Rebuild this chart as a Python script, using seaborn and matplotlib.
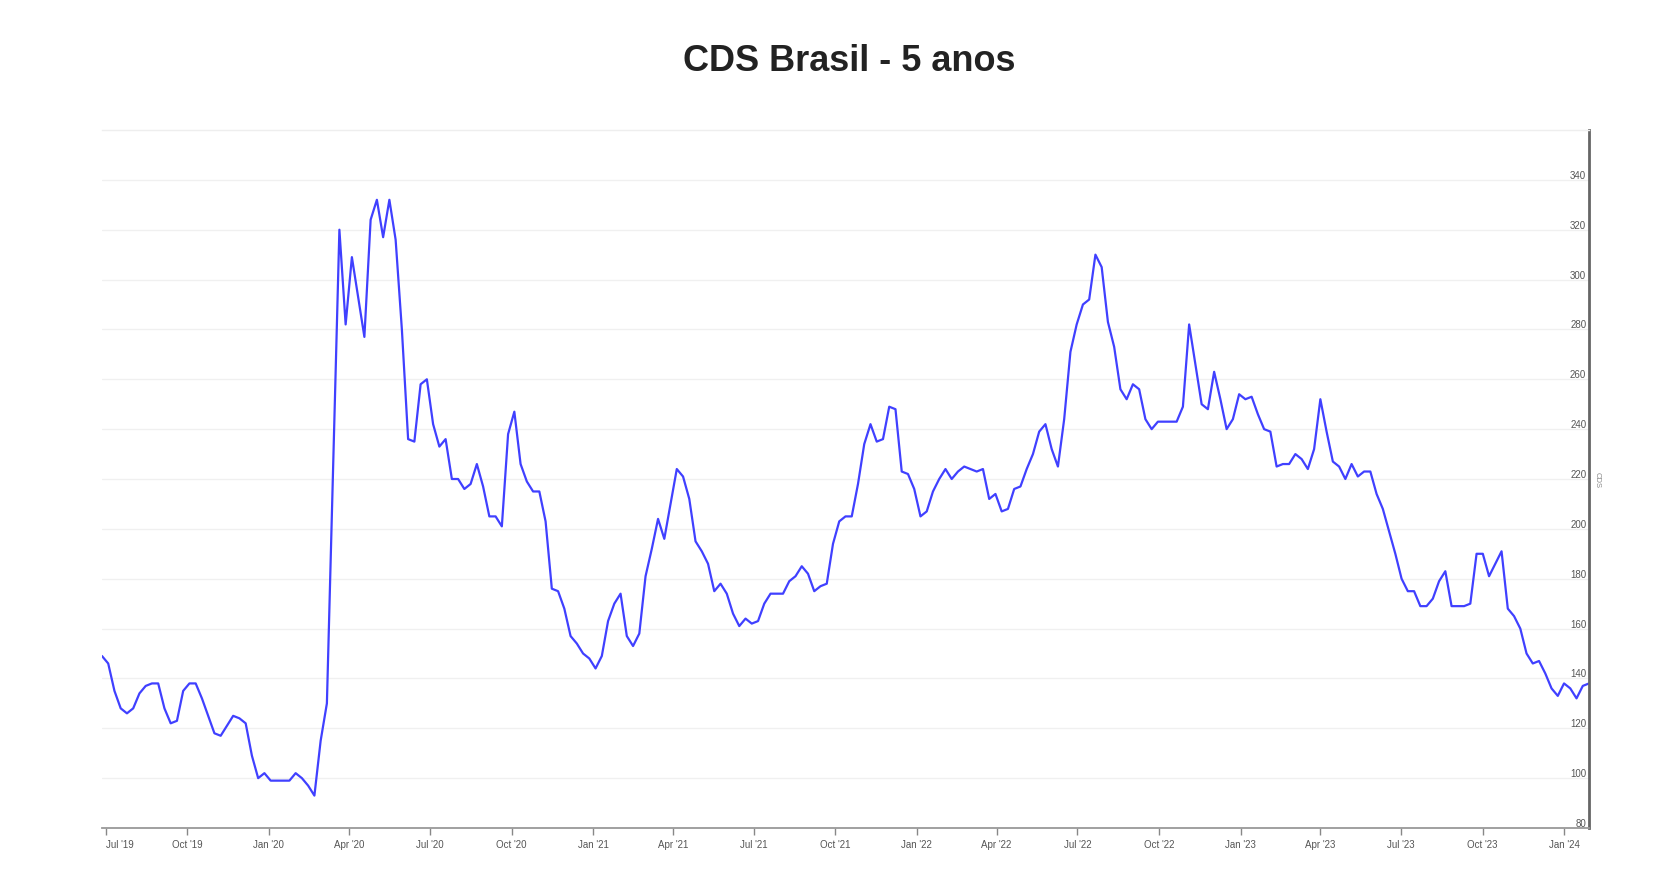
import pandas as pd
import matplotlib
matplotlib.use("Agg")
import matplotlib.pyplot as plt
import matplotlib.dates as mdates
import seaborn as sns

# weekly CDS 5y Brazil readings (bps), late Jun 2019 -> late Jan 2024
first_date = "2019-06-27"
last_date = "2024-01-29"
cds = [
    149, 146, 135, 128, 126, 128, 134, 137, 138, 138,
    128, 122, 123, 135, 138, 138, 132, 125, 118, 117,
    121, 125, 124, 122, 109, 100, 102, 99, 99, 99,
    99, 102, 100, 97, 93, 115, 130, 225, 320, 282,
    309, 293, 277, 324, 332, 317, 332, 316, 280, 236,
    235, 258, 260, 242, 233, 236, 220, 220, 216, 218,
    226, 217, 205, 205, 201, 238, 247, 226, 219, 215,
    215, 203, 176, 175, 168, 157, 154, 150, 148, 144,
    149, 163, 170, 174, 157, 153, 158, 181, 192, 204,
    196, 210, 224, 221, 212, 195, 191, 186, 175, 178,
    174, 166, 161, 164, 162, 163, 170, 174, 174, 174,
    179, 181, 185, 182, 175, 177, 178, 194, 203, 205,
    205, 218, 234, 242, 235, 236, 249, 248, 223, 222,
    216, 205, 207, 215, 220, 224, 220, 223, 225, 224,
    223, 224, 212, 214, 207, 208, 216, 217, 224, 230,
    239, 242, 232, 225, 244, 271, 282, 290, 292, 310,
    305, 283, 273, 256, 252, 258, 256, 244, 240, 243,
    243, 243, 243, 249, 282, 266, 250, 248, 263, 252,
    240, 244, 254, 252, 253, 246, 240, 239, 225, 226,
    226, 230, 228, 224, 232, 252, 239, 227, 225, 220,
    226, 221, 223, 223, 214, 208, 199, 190, 180, 175,
    175, 169, 169, 172, 179, 183, 169, 169, 169, 170,
    190, 190, 181, 186, 191, 168, 165, 160, 150, 146,
    147, 142, 136, 133, 138, 136, 132, 137, 138,
]
y_ticks = list(range(80, 360, 20))
title = "CDS Brasil - 5 anos"
y_label = "CDS"

df = pd.DataFrame({
    "date": pd.date_range(first_date, last_date, periods=len(cds)),
    "cds": cds,
})

sns.set_theme(style="white")
plt.rcParams["font.family"] = ["Liberation Sans", "DejaVu Sans"]

fig = plt.figure(figsize=(16.66, 8.78), dpi=100)
ax = fig.add_axes([0.0612, 0.0558, 0.8926, 0.795])

sns.lineplot(data=df, x="date", y="cds", color="#4040ff", linewidth=1.6, ax=ax)

ax.set_ylim(80, 360)
ax.set_xlim(df["date"].iloc[0], df["date"].iloc[-1])
ax.set_yticks(y_ticks)
ax.grid(axis="y", color="#f0f0f0", linewidth=1)
ax.grid(axis="x", visible=False)

ax.xaxis.set_major_locator(mdates.MonthLocator(bymonth=[1, 4, 7, 10]))
ax.xaxis.set_major_formatter(mdates.DateFormatter("%b '%y"))
ax.tick_params(axis="x", length=5, width=1, color="#888888", labelsize=7,
               labelcolor="#555555", pad=3, bottom=True)

ax.yaxis.tick_right()
ax.yaxis.set_label_position("right")
ax.tick_params(axis="y", length=0, pad=-2, labelsize=7, labelcolor="#555555")
plt.setp(ax.get_yticklabels(), ha="right", va="bottom")
ax.set_ylabel(y_label, rotation=270, fontsize=5.5, color="#888888", labelpad=8)
ax.set_xlabel("")

# first date label sits flush with the left edge, like the original
fig.canvas.draw()
xlabels = ax.get_xticklabels()
if xlabels:
    xlabels[0].set_horizontalalignment("left")

ax.spines["left"].set_visible(False)
ax.spines["top"].set_color("#eeeeee")
ax.spines["top"].set_linewidth(1)
ax.spines["right"].set_color("#666666")
ax.spines["right"].set_linewidth(2)
ax.spines["bottom"].set_color("#999999")
ax.spines["bottom"].set_linewidth(1.3)

fig.suptitle(title, x=0.51, y=0.93, va="center", fontsize=26,
             fontweight="bold", color="#222222")

fig.savefig("out.png", dpi=100)
